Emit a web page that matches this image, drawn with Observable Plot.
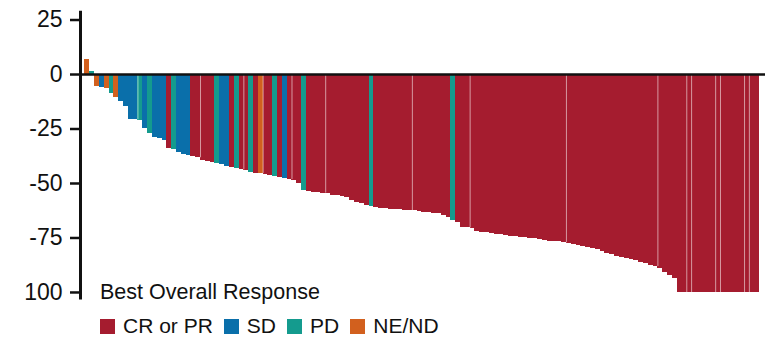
<!DOCTYPE html>
<html>
<head>
<meta charset="utf-8">
<script src="https://cdn.jsdelivr.net/npm/d3@7"></script>
<script src="https://cdn.jsdelivr.net/npm/@observablehq/plot@0.6"></script>
<style>
  body { margin: 0; background: #fff; }
  #wrap { position: relative; width: 769px; height: 339px; font-family: "Liberation Sans", Arial, sans-serif; color: #111; }
  #legend-title { position: absolute; left: 100px; top: 282px; font-size: 21.5px; line-height: 21px; white-space: nowrap; }
  #legend-items { position: absolute; left: 100px; top: 315px; display: flex; align-items: center; font-size: 21px; line-height: 21px; white-space: nowrap; }
  .sw { width: 15px; height: 15px; margin-right: 8px; margin-top: 2px; }
  .lab { margin-right: 11px; }
</style>
</head>
<body>
<div id="wrap"></div>
<script>
// Best overall response categories and their colours
const responseOrder = ["CR or PR", "SD", "PD", "NE/ND"];
const responseColors = ["#A51C2F", "#0A6FAA", "#149B8E", "#D2601E"];

// Best response for each patient, sorted by best % change in tumour size
const bestResponse = [
  "NE/ND", "PD", "NE/ND", "SD", "NE/ND", "PD", "NE/ND", "SD", "SD", "SD",
  "SD", "PD", "SD", "PD", "SD", "SD", "SD", "CR or PR", "PD", "SD",
  "SD", "SD", "CR or PR", "CR or PR", "CR or PR", "CR or PR", "CR or PR", "PD", "SD", "SD",
  "CR or PR", "PD", "CR or PR", "CR or PR", "PD", "CR or PR", "NE/ND", "CR or PR", "CR or PR", "PD",
  "CR or PR", "SD", "CR or PR", "CR or PR", "CR or PR", "PD", "CR or PR", "CR or PR", "CR or PR", "CR or PR",
  "CR or PR", "CR or PR", "CR or PR", "CR or PR", "CR or PR", "CR or PR", "CR or PR", "CR or PR", "CR or PR", "PD",
  "CR or PR", "CR or PR", "CR or PR", "CR or PR", "CR or PR", "CR or PR", "CR or PR", "CR or PR", "CR or PR", "CR or PR",
  "CR or PR", "CR or PR", "CR or PR", "CR or PR", "CR or PR", "CR or PR", "PD", "CR or PR", "CR or PR", "CR or PR",
  "CR or PR", "CR or PR", "CR or PR", "CR or PR", "CR or PR", "CR or PR", "CR or PR", "CR or PR", "CR or PR", "CR or PR",
  "CR or PR", "CR or PR", "CR or PR", "CR or PR", "CR or PR", "CR or PR", "CR or PR", "CR or PR", "CR or PR", "CR or PR",
  "CR or PR", "CR or PR", "CR or PR", "CR or PR", "CR or PR", "CR or PR", "CR or PR", "CR or PR", "CR or PR", "CR or PR",
  "CR or PR", "CR or PR", "CR or PR", "CR or PR", "CR or PR", "CR or PR", "CR or PR", "CR or PR", "CR or PR", "CR or PR",
  "CR or PR", "CR or PR", "CR or PR", "CR or PR", "CR or PR", "CR or PR", "CR or PR", "CR or PR", "CR or PR", "CR or PR",
  "CR or PR", "CR or PR", "CR or PR", "CR or PR", "CR or PR", "CR or PR", "CR or PR", "CR or PR", "CR or PR", "CR or PR"
];

// Best % change from baseline in sum of target lesions
const pctChange = [
  7, 1.5, -5.5, -5.8, -6.6, -8.6, -10.4, -12.2, -14.7, -20.8,
  -20.8, -21, -24.9, -27.2, -28.8, -29.5, -30.3, -34, -34.5, -35.6,
  -36.5, -37.2, -37.5, -38.2, -39.5, -40, -40.5, -41, -41.5, -42.3,
  -42.8, -43.3, -43.8, -44.2, -44.8, -45.2, -45.5, -46, -46.5, -47,
  -47.3, -47.8, -48.2, -48.8, -49.8, -53, -53.5, -54, -54.2, -54.4,
  -54.7, -55.5, -55.5, -55.8, -56.3, -57.8, -58.5, -59.3, -60, -60.6,
  -61, -61.3, -61.6, -61.8, -62, -62.1, -62.2, -62.4, -62.6, -63,
  -63.3, -63.5, -63.7, -63.9, -64.5, -65.4, -66.8, -67.8, -70, -70.4,
  -70.8, -71.9, -72.4, -72.7, -73.1, -73.3, -73.6, -73.9, -74.2, -74.4,
  -74.6, -74.9, -75.1, -75.4, -75.7, -76.1, -76.5, -76.6, -76.8, -77.2,
  -77.7, -78, -78.4, -78.8, -79.5, -79.8, -80.3, -81, -82.3, -82.8,
  -83.5, -83.8, -84.6, -85, -85.3, -86.1, -86.8, -87.5, -88.1, -89.1,
  -90.7, -92.2, -93.7, -100, -100, -100, -100, -100, -100, -100,
  -100, -100, -100, -100, -100, -100, -100, -100, -100, -100
];

// Y axis ticks and their printed labels
const yTicks = [25, 0, -25, -50, -75, -100];
const yTickLabels = ["25", "0", "-25", "-50", "-75", "100"];

// Patients whose bar is preceded by a thin light seam
const seamBefore = [11, 24, 33, 37, 43, 50, 68, 80, 100, 119, 125, 126, 131, 132, 137, 138];

const N = pctChange.length;
const patients = pctChange.map((v, i) => ({i, v, r: bestResponse[i]}));
const seams = seamBefore.map(i => ({i, v: Math.max(pctChange[i - 1], pctChange[i])}));
const tickLabel = new Map(yTicks.map((t, k) => [t, yTickLabels[k]]));
const xDomain = [-0.93, N + 1.35];

const chart = Plot.plot({
  width: 769,
  height: 339,
  marginLeft: 80,
  marginRight: 4,
  marginTop: 10.8,
  marginBottom: 39.4,
  x: {domain: xDomain, axis: null},
  y: {domain: [-103.5, 29], axis: null},
  color: {domain: responseOrder, range: responseColors},
  style: {fontFamily: "\"Liberation Sans\", Arial, sans-serif", background: "white", color: "#111"},
  marks: [
    Plot.rectY(patients, {x1: "i", x2: d => d.i + 1, y1: 0, y2: "v", fill: "r", shapeRendering: "crispEdges"}),
    Plot.ruleX(seams, {x: "i", y1: 0, y2: "v", stroke: "white", strokeOpacity: 0.55, strokeWidth: 1}),
    Plot.ruleY([0], {stroke: "#111", strokeWidth: 2.5}),
    Plot.ruleX([xDomain[0]], {stroke: "#111", strokeWidth: 3}),
    Plot.axisY(yTicks, {
      anchor: "left",
      label: null,
      tickSize: 10,
      tickPadding: 8,
      strokeWidth: 2.5,
      color: "#111",
      fontSize: 23,
      tickFormat: d => tickLabel.get(d)
    })
  ]
});

const wrap = document.getElementById("wrap");
wrap.appendChild(chart);

const title = document.createElement("div");
title.id = "legend-title";
title.textContent = "Best Overall Response";
wrap.appendChild(title);

const items = document.createElement("div");
items.id = "legend-items";
responseOrder.forEach((name, k) => {
  const sw = document.createElement("div");
  sw.className = "sw";
  sw.style.background = responseColors[k];
  const lab = document.createElement("span");
  lab.className = "lab";
  lab.textContent = name;
  items.appendChild(sw);
  items.appendChild(lab);
});
wrap.appendChild(items);
</script>
</body>
</html>
